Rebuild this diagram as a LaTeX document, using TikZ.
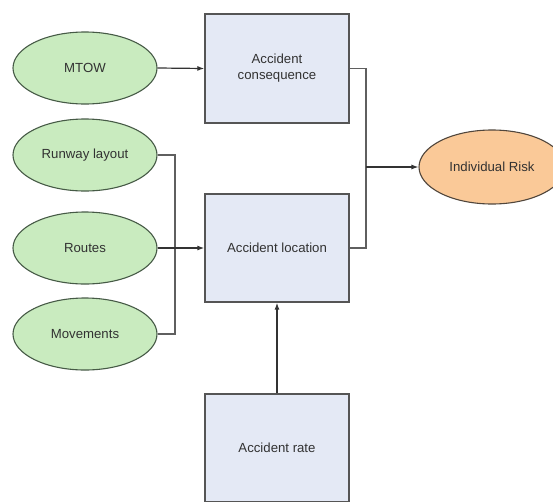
\documentclass[tikz,border=0pt]{standalone}
\usepackage{fontspec}
\setmainfont{Liberation Sans}
\usetikzlibrary{shapes.geometric,arrows.meta}
\definecolor{greenfill}{RGB}{201,235,191}
\definecolor{greenline}{RGB}{70,90,70}
\definecolor{orangefill}{RGB}{250,201,152}
\definecolor{orangeline}{RGB}{80,70,60}
\definecolor{boxfill}{RGB}{228,233,245}
\definecolor{boxline}{RGB}{85,85,85}
\definecolor{txt}{RGB}{50,50,50}
\definecolor{wire}{RGB}{95,95,95}
\tikzset{
  x=1pt, y=-1pt,
  inputell/.style={ellipse, draw=greenline, fill=greenfill, line width=1.1pt,
    minimum width=144pt, minimum height=72pt, inner sep=0pt,
    font=\fontsize{13.2}{15}\selectfont, text=txt},
  outell/.style={ellipse, draw=orangeline, fill=orangefill, line width=1.1pt,
    minimum width=146pt, minimum height=74pt, inner sep=0pt,
    font=\fontsize{13.2}{15}\selectfont, text=txt},
  blockbox/.style={rectangle, draw=boxline, fill=boxfill, line width=1.3pt,
    minimum width=144pt, inner sep=0pt, align=center,
    font=\fontsize{13.2}{16}\selectfont, text=txt},
  wireline/.style={draw=wire, line width=1.1pt},
  arrowline/.style={draw=black!80, line width=1.2pt, -{Latex[length=7pt,width=5pt]}},
}
\begin{document}
\begin{tikzpicture}
\useasboundingbox (0,0) rectangle (553,501);
\clip (0,0) rectangle (553,501);
\node[inputell] (mtow) at (85,68) {MTOW};
\node[inputell] (run) at (85,155) {Runway layout};
\node[inputell] (routes) at (85,248) {Routes};
\node[inputell] (mov) at (85,334) {Movements};
\node[blockbox, minimum height=109pt] (cons) at (277,68.5) {Accident\\consequence};
\node[blockbox, minimum height=108pt] (loc) at (277,248) {Accident location};
\node[blockbox, minimum height=108pt] (rate) at (277,448) {Accident rate};
\node[outell] (ir) at (492,167) {Individual Risk};
\coordinate (busL) at (175,248);
\coordinate (busR) at (366,167);
\draw[arrowline] (mtow.east) -- (cons.west);
\draw[wireline] (run.east) -| (busL);
\draw[wireline] (mov.east) -| (busL);
\draw[arrowline] (routes.east) -- (loc.west);
\draw[wireline] (cons.east) -| (busR);
\draw[wireline] (loc.east) -| (busR);
\draw[arrowline] (busR) -- (ir.west);
\draw[arrowline] (rate.north) -- (loc.south);
\end{tikzpicture}
\end{document}
